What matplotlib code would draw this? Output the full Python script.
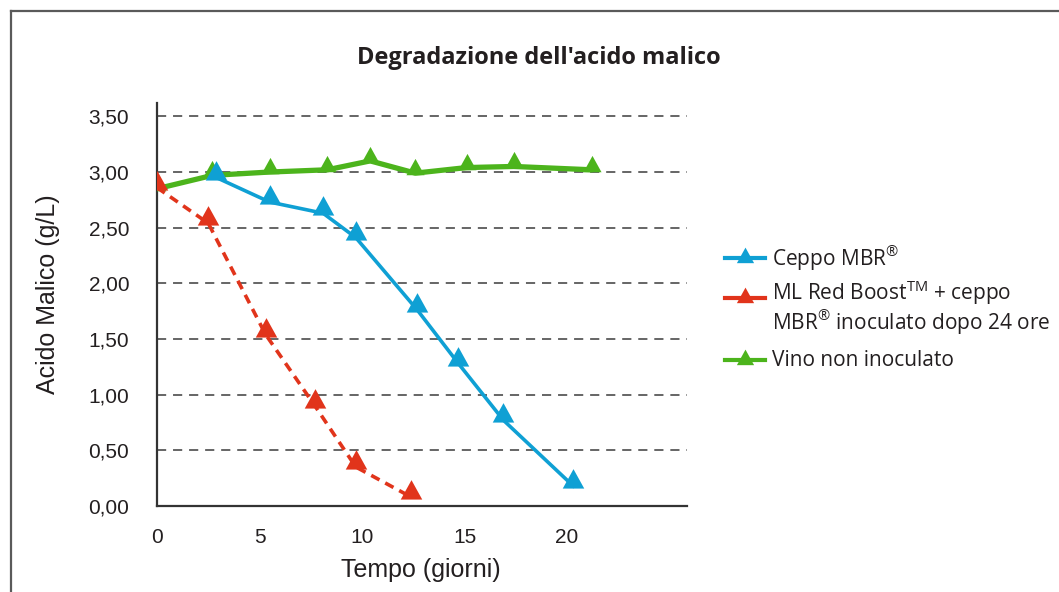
"""Degradazione dell'acido malico: three malic-acid curves over time."""
import matplotlib
matplotlib.use("Agg")
import matplotlib.pyplot as plt
from matplotlib.lines import Line2D

W, H = 1059, 592
INK, GRID = "#231f20", "#3c3c3c"
BLUE, RED, GREEN = "#0fa0d4", "#e1341b", "#4cb41c"

# data (days, g/L)
green_x = [0, 2.7, 5.5, 8.3, 10.4, 12.6, 15.1, 17.4, 21.2]
green_y = [2.85, 2.97, 3.00, 3.02, 3.10, 2.99, 3.04, 3.05, 3.02]
blue_x = [2.9, 5.5, 8.1, 9.7, 12.7, 14.7, 16.9, 20.3]
blue_y = [2.95, 2.73, 2.63, 2.41, 1.76, 1.28, 0.77, 0.18]
red_x = [0, 2.5, 5.3, 7.7, 9.7, 12.4]
red_y = [2.86, 2.54, 1.54, 0.90, 0.35, 0.08]

x_ticks = [0, 5, 10, 15, 20]
y_ticks = [0, 0.5, 1.0, 1.5, 2.0, 2.5, 3.0, 3.5]
y_labels = ["0,00", "0,50", "1,00", "1,50", "2,00", "2,50", "3,00", "3,50"]
legend_labels = ["Ceppo MBR$^{®}$",
                 "ML Red Boost$^{\\mathrm{TM}}$ + ceppo\nMBR$^{®}$ inoculato dopo 24 ore",
                 "Vino non inoculato"]

TRI = [(0, 1.0), (-0.62, -0.12), (0.62, -0.12)]  # base sits on the point


def fx(px):
    return px / W


def fy(py):
    return 1 - py / H


plt.rcParams["mathtext.fontset"] = "custom"
plt.rcParams["mathtext.rm"] = "Open Sans"

fig = plt.figure(figsize=(W / 100, H / 100), dpi=100)
fig.patch.set_facecolor("white")
ax = fig.add_axes([fx(157), fy(506), (687 - 157) / W, (506 - 103) / H])
ax.set_xlim(0, 25.85)
ax.set_ylim(0, 3.62)

for s in ("top", "right"):
    ax.spines[s].set_visible(False)
for s in ("left", "bottom"):
    ax.spines[s].set_color("#333333")
    ax.spines[s].set_linewidth(1.6)
for v in y_ticks[1:]:
    ax.axhline(v, color=GRID, lw=1.1, ls=(0, (6, 4.5)), zorder=1)

ax.plot(green_x, green_y, color=GREEN, lw=3.8, marker=TRI, ms=21, mew=0,
        solid_joinstyle="round", solid_capstyle="round", zorder=3)
ax.plot(blue_x, blue_y, color=BLUE, lw=2.6, marker=TRI, ms=25, mew=0,
        solid_joinstyle="round", zorder=4)
ax.plot(red_x, red_y, color=RED, lw=2.6, ls=(0, (2.6, 1.8)), marker=TRI,
        ms=25, mew=0, zorder=5)

ax.set_xticks(x_ticks)
ax.set_yticks(y_ticks)
ax.set_yticklabels(y_labels)
ax.tick_params(length=0, labelsize=15, colors=INK)
ax.tick_params(axis="y", pad=20)
ax.tick_params(axis="x", pad=16)
for lab in ax.get_xticklabels() + ax.get_yticklabels():
    lab.set_fontfamily("Liberation Sans")

fig.text(fx(48), fy(294), "Acido Malico (g/L)", rotation=90, ha="center",
         va="center", fontsize=18, family="Liberation Sans", color=INK)
fig.text(fx(421), fy(570), "Tempo (giorni)", ha="center", va="center",
         fontsize=18, family="Liberation Sans", color=INK)
fig.text(fx(539), fy(58), "Degradazione dell'acido malico", ha="center",
         va="center", fontsize=17, family="Open Sans", weight="bold",
         color=INK)

# hand-placed legend
entries = [(BLUE, 258, 258), (RED, 298, 307.5), (GREEN, 360, 360)]
for (col, hy, ty), lab in zip(entries, legend_labels):
    fig.add_artist(Line2D([fx(725), fx(765)], [fy(hy), fy(hy)], color=col,
                          lw=3, transform=fig.transFigure))
    fig.add_artist(Line2D([fx(745)], [fy(hy + 3)], color=col, marker=TRI,
                          ms=20, mew=0, transform=fig.transFigure))
    fig.text(fx(772), fy(ty), lab, ha="left", va="center", fontsize=15,
             family="Open Sans", color=INK, linespacing=1.05)

# partial frame round the figure
fig.add_artist(Line2D([fx(10.5), 1], [fy(10.5), fy(10.5)], color="#5a5a5a",
                      lw=1.6, transform=fig.transFigure))
fig.add_artist(Line2D([fx(10.5), fx(10.5)], [fy(10.5), 0], color="#5a5a5a",
                      lw=1.6, transform=fig.transFigure))

fig.savefig("out.png", dpi=100, facecolor="white")
